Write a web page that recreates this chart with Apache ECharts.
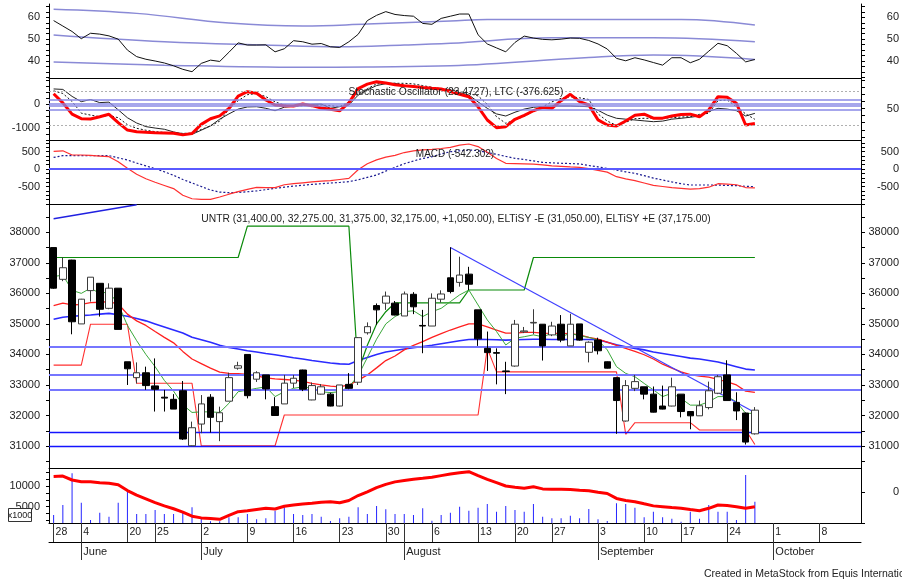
<!DOCTYPE html>
<html>
<head>
<meta charset="utf-8">
<script src="https://cdn.jsdelivr.net/npm/echarts@6/dist/echarts.min.js"></script>
<style>
html,body{margin:0;padding:0;background:#fff;}
#main{width:902px;height:579px;}
</style>
</head>
<body>
<div id="main"></div>
<script>
// UNTR daily chart, 28 May - 27 Sep, MetaStock style panels

var slotCount = 88;
var dayTickSlots = [0,3,8,11,16,21,26,31,36,38,41,46,50,54,59,64,68,73,78,83];
var dayTickText  = ['28','4','20','25','2','9','16','23','30','','6','13','20','27','3','10','17','24','1','8'];
var monthSlots = [3,16,38,59,78];
var monthText  = ['June','July','August','September','October'];

// prices
var openP = [37500,36460,37090,35000,36090,36330,35510,36170,33760,33240,
  33400,32970,32600,32530,32810,31010,31720,32600,31800,32470,
  33550,34000,33190,33330,32290,32380,33060,33490,32510,32700,
  32700,32310,33020,33090,34710,35600,35680,35680,35260,35970,
  34950,34930,35810,36510,36360,36630,35460,34200,34060,33460,
  33620,34740,35030,34990,34640,34990,34280,35000,34070,34470,
  33760,33240,31820,32890,32940,32700,32310,32310,32700,32130,
  31990,32260,32730,33330,32430,32080,31400];
var closeP = [36170,36840,35070,35810,36530,35480,36170,34820,33530,33400,
  32980,32860,32570,32210,31230,31600,32380,31940,32090,33240,
  33630,32650,33400,32870,32000,33060,33220,32860,32980,32940,
  32310,33000,32890,34550,34910,35460,35910,35290,35980,35560,
  34930,35840,35980,36060,36600,36300,34510,34060,34040,33440,
  34990,34770,35050,34280,34930,34470,34990,34470,34400,34120,
  33550,32490,32980,33110,32700,32110,32210,32940,32130,31990,
  32320,32810,33270,32490,32150,31130,32175];
var lowP = [36150,36400,34660,35000,35730,35240,35480,34820,33000,33050,
  32840,32130,32130,32210,31200,31000,31420,31440,31160,32470,
  33500,32560,33100,32530,31990,32380,32900,32800,32500,32690,
  32300,32300,32860,33000,34650,34970,35460,35280,35260,35320,
  34040,34930,35700,36000,36220,36110,34280,33460,33020,32700,
  33600,34700,34660,33800,34600,34400,34280,34450,33740,34000,
  33540,31400,31800,32800,32530,32100,32200,32300,31940,31550,
  31990,32200,32700,32490,31850,31050,31375];
var highP = [37500,37180,37100,35820,36530,36330,36330,36170,33760,33740,
  33600,33870,32840,32700,33130,31800,32670,32700,32290,33400,
  33760,34000,33450,33330,32600,33330,33330,33500,33080,33030,
  32750,33000,33390,34570,35050,35670,36060,35750,36060,36040,
  35460,36000,36100,37510,37200,36870,35460,34750,34200,33760,
  35130,34900,35480,34990,35070,35290,35330,35000,34430,34550,
  33770,33250,33160,33330,32940,32950,32980,33240,32700,32130,
  32490,33110,33330,33810,32760,32100,32275];

var maShort = [36550,36600,36100,36000,36170,36000,36050,35650,34950,34450,
  34000,33600,33150,32800,32350,32100,32120,32120,32100,32400,
  32780,32830,32890,32940,32620,32780,32890,32940,32890,32780,
  32750,32780,32940,33300,33900,34500,35000,35240,35400,35430,
  35240,35400,35510,35730,35950,36110,35620,35130,34750,34310,
  34530,34580,34640,34580,34690,34580,34690,34610,34560,34470,
  34150,33600,33380,33270,33050,32840,32620,32730,32560,32340,
  32340,32450,32620,32620,32450,32070,32070];
var maMid = [35600,35680,35620,35640,35700,35710,35730,35650,35320,35100,
  34950,34750,34560,34380,34100,33850,33700,33550,33420,33380,
  33370,33350,33300,33230,33200,33180,33160,33120,33050,33000,
  32960,32940,33000,33150,33330,33560,33800,33950,34150,34300,
  34420,34560,34680,34800,34900,35000,35000,34900,34800,34700,
  34700,34720,34720,34700,34690,34690,34680,34640,34560,34500,
  34400,34300,34200,34100,33990,33850,33680,33550,33430,33340,
  33290,33260,33180,33100,33000,32800,32760];
var maLong = [35150,35220,35250,35270,35290,35320,35345,35300,35250,35180,
  35100,35000,34900,34800,34700,34560,34480,34400,34300,34230,
  34180,34120,34080,34030,33990,33940,33890,33850,33800,33760,
  33720,33690,33680,33800,33900,34000,34080,34130,34180,34220,
  34260,34300,34350,34400,34450,34490,34500,34490,34480,34470,
  34480,34490,34500,34500,34490,34490,34490,34490,34490,34480,
  34400,34320,34250,34200,34150,34080,34030,33980,33930,33880,
  33850,33800,33750,33680,33600,33520,33490];
var stopUpper = [37175,37175,37175,37175,37175,37175,37175,37175,37175,37175,
  37175,37175,37175,37175,37175,37175,37175,37175,37175,37175,
  37175,38200,38200,38200,38200,38200,38200,38200,38200,38200,
  38200,38200,38200,33450,34300,35000,35400,35690,35690,35690,
  35690,35690,35690,35690,35690,36110,36110,36110,36110,36110,
  36110,36110,37175,37175,37175,37175,37175,37175,37175,37175,
  37175,37175,37175,37175,37175,37175,37175,37175,37175,37175,
  37175,37175,37175,37175,37175,37175,37175];
var stopLower = [33650,33650,33650,33650,34990,34990,34990,34990,34990,33055,
  33055,33055,33055,33055,33055,33055,31010,31010,31010,31010,
  31010,31010,31010,31010,31010,32017,32017,32017,32017,32017,
  32017,32017,32017,32017,32017,32017,32017,32017,32017,32017,
  32017,32017,32017,32017,32017,32017,32017,34200,33430,33430,
  33430,33430,33430,33430,33430,33430,33430,33430,33430,33430,
  33430,33430,31385,31765,31765,31765,31765,31765,31765,31765,
  31526,31526,31526,31526,31526,31526,31050];
var levelLines = [34250,33330,32850,31450,31000];
var fallTrend = [[43,37500],[76,32100]];
var riseTrend = [[0,38444],[9,38904]];

// upper oscillator with bands
var rsiLine = [58.5,56,53.5,50.2,52.7,52.3,51.5,50,45,42,
  40.8,40,39.1,37.8,36.2,35.1,38.9,40.4,39.8,44,
  48.3,47.3,47.3,47.4,44.2,45.6,49.3,48.8,47.7,48,
  46.5,46.2,48.8,52.2,58.5,60.9,62.6,61.3,60.8,60.5,
  57.2,56.8,59.5,60.5,61.5,61.5,52,47.8,46,44.2,
  48.5,51.4,50.5,49.9,49.7,50,50.5,50.4,49.4,47.8,
  45.5,41.2,40.1,41.5,40.5,39.3,38.1,41.5,41.5,39.2,
  40.8,44.5,48.1,47,43.5,39.6,40.7];
var rsiUpperBand = [[0,63.7],[9,61.8],[19,57.4],[27,56],[34,56.9],[43,58.3],[47,59],[68,59],[76,56.5]];
var rsiMidBand = [[0,51.9],[12,48.8],[23,47.3],[31,46.5],[38,47.3],[43,48.1],[54,50.6],[65,50.6],[76,48.8]];
var rsiLowerBand = [[0,39.6],[12,38.1],[27,37.1],[34,37.3],[43,37.8],[58,41.6],[65,42.7],[76,40.7]];

// stochastic + LTC
var stochK = [76,60,40,32,31.5,35.5,39.8,25,12,9,
  8,7.3,6.8,6.3,3.5,6,22,32,37,50,
  72,79.6,76.8,65,56.2,55,54.4,57.9,55,51,
  48.6,46,60,85,93,97.3,95,92,90,89,
  87,85.6,84.5,80,75,70.8,53,29.7,16.1,17.9,
  31,38,46,52,50.4,63.8,75,62,56.2,30,
  20.9,19.1,28,38,40,33,33,36.8,39.5,40,
  35.5,47.4,70.8,69.8,59.2,20.9,23.5];
var ltcLine = [640,620,330,110,200,70,90,-230,-560,-780,
  -930,-990,-1040,-1150,-1230,-1250,-1080,-900,-620,-400,
  -200,-110,-100,-167,-267,-120,-80,-30,0,10,
  -167,-100,-29,380,600,780,860,875,780,730,
  690,667,630,600,490,388,100,-167,-400,-488,
  -330,-200,-125,-90,-71,-71,-71,-85,-100,-250,
  -450,-583,-620,-654,-690,-725,-700,-620,-583,-540,
  -488,-300,-167,-200,-267,-488,-377];
var ltcSignal = [560,450,120,-370,-450,-517,-460,-560,-850,-1000,
  -1080,-1140,-1170,-1200,-1208,-1208,-1050,-900,-700,-200,
  150,400,450,320,100,-30,-71,-60,-40,-30,
  -60,-100,100,450,650,850,875,875,875,850,
  780,708,650,620,550,450,350,0,-517,-792,
  -650,-500,-300,-100,100,250,317,270,200,-400,
  -700,-875,-750,-600,-583,-583,-583,-560,-530,-517,
  -420,-375,150,180,-100,-400,-625];
var stochLevels = [66.2,59.2,54.4,48.6];
var stochBounds = [80,20];

// MACD
var macdLine = [505,520,400,400,390,370,351,209,20,-150,
  -280,-380,-470,-560,-750,-850,-866,-866,-800,-720,
  -648,-580,-523,-530,-533,-450,-420,-395,-370,-345,
  -333,-300,-267,-20,150,260,340,390,470,520,
  545,562,585,620,680,714,640,480,300,162,
  155,148,140,120,90,75,60,48,10,-40,
  -90,-220,-280,-330,-400,-470,-500,-530,-552,-575,
  -560,-520,-420,-430,-450,-530,-542];
var macdSignal = [330,381,381,381,381,381,381,320,257,170,
  90,10,-80,-180,-300,-400,-500,-600,-660,-676,
  -670,-650,-625,-590,-550,-520,-490,-465,-440,-420,
  -400,-385,-360,-310,-240,-170,-60,50,150,230,
  300,351,430,494,520,543,525,470,420,360,
  305,270,230,190,175,165,155,145,100,60,
  15,-30,-80,-124,-190,-260,-314,-370,-420,-457,
  -457,-457,-460,-470,-476,-495,-505];

// volume
var volume = [3000,5410,13070,5970,1790,3550,2590,5970,8620,3240,
  3240,4200,3240,3240,3960,4850,2200,1500,1500,2440,
  2440,3240,1960,2200,4040,4850,3240,3000,3240,2590,
  1550,2200,2590,4850,3240,5170,4370,3240,3240,3000,
  4610,1630,3000,3550,5000,4040,4760,5650,3800,5170,
  4200,3800,5650,2590,2200,2200,2830,2200,4450,1960,
  1550,5820,5650,4760,2440,3800,2440,2100,1380,3800,
  2100,5410,3800,3800,1800,12660,6200];
var volumeLine = [12300,12400,11450,11040,11040,10800,10650,10300,8900,7800,
  6900,6000,5200,4500,3700,2700,2300,2150,1960,2900,
  3800,4000,4300,4600,4450,5100,5400,5650,5820,6100,
  6210,5970,6500,7700,8600,9600,10400,11000,11350,11650,
  11860,12100,12500,12900,13200,13450,12500,11600,10800,10000,
  9700,9450,9830,9300,9200,9200,9150,9000,8865,8500,
  8200,7000,6500,6210,5700,5200,5000,4800,4610,4300,
  4040,4610,5410,5300,5000,4610,5000];

var slots = [];
for (var i = 0; i < slotCount; i++) slots.push('d' + i);
var candles = openP.map(function (o, i) { return [o, closeP[i], lowP[i], highP[i]]; });

function steps(a, b, s) { var r = []; for (var v = a; v <= b + 1e-6; v += s) r.push(+v.toFixed(2)); return r; }

var FONT = 'Liberation Sans';
var lab = { fontFamily: FONT, fontSize: 11, color: '#222' };
function plain(v) { return String(v); }

function yLeft(grid, min, max, labels, ticks) {
  return {
    type: 'value', gridIndex: grid, position: 'left', min: min, max: max,
    splitLine: { show: false },
    axisLine: { show: true, onZero: false, lineStyle: { color: '#000', width: 1 } },
    axisTick: { show: true, length: 3, customValues: ticks, lineStyle: { color: '#000' } },
    axisLabel: Object.assign({ customValues: labels, margin: 9, formatter: plain }, lab)
  };
}
function yRight(grid, min, max, labels, ticks) {
  return {
    type: 'value', gridIndex: grid, position: 'right', min: min, max: max,
    splitLine: { show: false },
    axisLine: { show: true, onZero: false, lineStyle: { color: '#000', width: 1 } },
    axisTick: { show: true, length: 4, customValues: ticks, lineStyle: { color: '#000' } },
    axisLabel: Object.assign({ customValues: labels, margin: 38, align: 'right', formatter: plain }, lab)
  };
}
function xPlain(grid) {
  return {
    type: 'category', gridIndex: grid, data: slots, position: 'bottom',
    axisLine: { onZero: false, lineStyle: { color: '#000' } },
    axisTick: { show: false }, axisLabel: { show: false }, splitLine: { show: false }
  };
}
function inList(list) { return function (i) { return list.indexOf(i) >= 0; }; }

var thin = { showSymbol: false, symbol: 'none', silent: true };
function line(name, x, y, data, style, extra) {
  return Object.assign({ type: 'line', name: name, xAxisIndex: x, yAxisIndex: y, data: data, lineStyle: style, z: 3 }, thin, extra || {});
}
function hLines(values, style) {
  return {
    silent: true, symbol: 'none', label: { show: false }, lineStyle: style,
    data: values.map(function (v) { return { yAxis: v }; })
  };
}

var titleFont = '10.3px "Liberation Sans"';

var chart = echarts.init(document.getElementById('main'));
chart.setOption({
  animation: false,
  backgroundColor: '#fff',
  grid: [
    { left: 49, right: 39, top: 4, height: 74.7 },
    { left: 49, right: 39, top: 78.7, height: 61.6 },
    { left: 49, right: 39, top: 140.3, height: 63.7 },
    { left: 49, right: 39, top: 204, height: 264 },
    { left: 49, right: 39, top: 468, height: 55 }
  ],
  xAxis: [
    xPlain(0), xPlain(1), xPlain(2), xPlain(3),
    {
      type: 'category', gridIndex: 4, data: slots, position: 'bottom',
      axisLine: { onZero: false, lineStyle: { color: '#000' } },
      axisTick: { show: true, alignWithLabel: true, length: 19, interval: inList(dayTickSlots), lineStyle: { color: '#333', width: 1 } },
      axisLabel: Object.assign({}, lab, {
        fontSize: 10.5,
        interval: inList(dayTickSlots), align: 'left', margin: 4, padding: [0, 0, 0, 2],
        formatter: function (v, i) { var k = dayTickSlots.indexOf(i); return k >= 0 ? dayTickText[k] : ''; }
      }),
      splitLine: { show: false }
    },
    {
      type: 'category', gridIndex: 4, data: slots, position: 'bottom', offset: 19,
      axisLine: { onZero: false, lineStyle: { color: '#000' } },
      axisTick: { show: true, alignWithLabel: true, length: 18, interval: inList(monthSlots), lineStyle: { color: '#333', width: 1 } },
      axisLabel: Object.assign({}, lab, {
        interval: inList(monthSlots), align: 'left', margin: 4, padding: [0, 0, 0, 2],
        formatter: function (v, i) { var k = monthSlots.indexOf(i); return k >= 0 ? monthText[k] : ''; }
      }),
      splitLine: { show: false }
    }
  ],
  yAxis: [
    yLeft(0, 31.9, 66.09, [40, 50, 60], steps(32.5, 65, 2.5)),
    yRight(0, 31.9, 66.09, [40, 50, 60], steps(32.5, 65, 2.5)),
    yLeft(1, -1500, 1066.7, [-1000, 0], steps(-1500, 1000, 250)),
    yRight(1, -6.08, 102.56, [50], steps(0, 100, 12.5)),
    yLeft(2, -1000, 820, [-500, 0, 500], steps(-1000, 750, 125)),
    yRight(2, -1000, 820, [-500, 0, 500], steps(-1000, 750, 125)),
    yLeft(3, 30281, 38927, steps(31000, 38000, 1000), steps(30500, 38500, 500)),
    yRight(3, 30281, 38927, steps(31000, 38000, 1000), steps(30500, 38500, 500)),
    yLeft(4, 1064, 14347, [5000, 10000], steps(1666.67, 13333.4, 1666.67)),
    yRight(4, -50, 40, [0], [-50, 0])
  ],
  series: [
    // top oscillator
    line('upper band', 0, 0, rsiUpperBand, { color: '#8a8ad6', width: 1.5 }, { smooth: 0.4 }),
    line('mid band', 0, 0, rsiMidBand, { color: '#8a8ad6', width: 1.5 }, { smooth: 0.4 }),
    line('lower band', 0, 0, rsiLowerBand, { color: '#8a8ad6', width: 1.5 }, { smooth: 0.4 }),
    line('oscillator', 0, 0, rsiLine, { color: '#111', width: 1 }),
    // stochastic
    line('stoch levels', 1, 3, [], { color: '#8080e0', width: 1.5 }, {
      markLine: hLines(stochLevels, { color: '#8888e6', width: 1.5, type: 'solid' })
    }),
    line('stoch bounds', 1, 3, [], { color: '#aaa' }, {
      markLine: hLines(stochBounds, { color: '#b0b0b0', width: 1, type: [2, 2] })
    }),
    line('LTC signal', 1, 2, ltcSignal, { color: '#111', width: 1, type: [2, 2] }),
    line('LTC', 1, 2, ltcLine, { color: '#222', width: 1 }),
    line('Stochastic', 1, 3, stochK, { color: '#ff0000', width: 3 }, { z: 4 }),
    // MACD
    line('macd zero', 2, 4, [], { color: '#5050ff' }, {
      markLine: hLines([0], { color: '#5a5aff', width: 2, type: 'solid' })
    }),
    line('MACD signal', 2, 4, macdSignal, { color: '#1a1a90', width: 1.2, type: [2, 2] }),
    line('MACD', 2, 4, macdLine, { color: '#ff3030', width: 1.2 }),
    // price panel
    line('levels', 3, 6, [], { color: '#6a6aff' }, {
      z: 1,
      markLine: {
        silent: true, symbol: 'none', label: { show: false },
        data: levelLines.map(function (v, i) {
          return { yAxis: v, lineStyle: i < 3 ? { color: '#7676ff', width: 2, type: 'solid' } : { color: '#1414ff', width: 1.3, type: 'solid' } };
        })
      }
    }),
    line('MA long', 3, 6, maLong, { color: '#2b2bff', width: 1.6 }),
    line('MA mid', 3, 6, maMid, { color: '#ff2020', width: 1.3 }),
    line('ELTiSY +E', 3, 6, stopUpper, { color: '#0a8a0a', width: 1.2 }),
    line('ELTiSY -E', 3, 6, stopLower, { color: '#ff3030', width: 1.1 }),
    line('MA short', 3, 6, maShort, { color: '#3aa83a', width: 1 }),
    line('fall trend', 3, 6, fallTrend, { color: '#3f3fff', width: 1.2 }),
    line('rise trend', 3, 6, riseTrend, { color: '#2020e0', width: 1.4 }),
    {
      type: 'candlestick', name: 'UNTR', xAxisIndex: 3, yAxisIndex: 6, data: candles,
      barWidth: 7, silent: true, z: 5,
      itemStyle: { color: '#ffffff', color0: '#000000', borderColor: '#3a3a3a', borderColor0: '#000000', borderWidth: 1 }
    },
    // volume
    {
      type: 'bar', name: 'volume', xAxisIndex: 4, yAxisIndex: 8, data: volume,
      barWidth: 1, silent: true, itemStyle: { color: '#2525ff' }, z: 2
    },
    line('volume line', 4, 8, volumeLine, { color: '#ff0000', width: 3 }, { z: 4 })
  ],
  graphic: [
    { type: 'text', x: 456, y: 92, z: 10, style: { text: 'Stochastic Oscillator (23.4727), LTC (-376.625)', font: titleFont, fill: '#222', align: 'center', verticalAlign: 'middle' } },
    { type: 'text', x: 455, y: 154, z: 10, style: { text: 'MACD (-542.302)', font: '10px "Liberation Sans"', fill: '#222', align: 'center', verticalAlign: 'middle' } },
    { type: 'text', x: 456, y: 219, z: 10, style: { text: 'UNTR (31,400.00, 32,275.00, 31,375.00, 32,175.00, +1,050.00), ELTiSY -E (31,050.00), ELTiSY +E (37,175.00)', font: titleFont, fill: '#222', align: 'center', verticalAlign: 'middle' } },
    { type: 'rect', z: 10, shape: { x: 8.5, y: 508.5, width: 23, height: 13 }, style: { fill: '#fff', stroke: '#333', lineWidth: 1 } },
    { type: 'text', x: 20, y: 515.5, z: 11, style: { text: 'x1000', font: '9px "Liberation Sans"', fill: '#222', align: 'center', verticalAlign: 'middle' } },
    { type: 'text', x: 704, y: 574, z: 10, style: { text: 'Created in MetaStock from Equis International', font: '10.5px "Liberation Sans"', fill: '#222', align: 'left', verticalAlign: 'middle' } }
  ]
});
</script>
</body>
</html>
